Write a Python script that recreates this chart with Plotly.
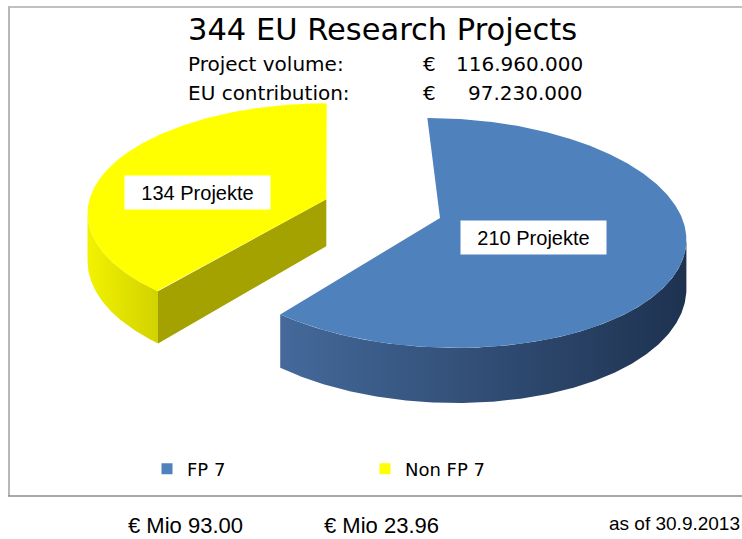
import numpy as np
import plotly.graph_objects as go

# ---------------- data ----------------
categories = ["FP 7", "Non FP 7"]
projects = [210, 134]
slice_labels = ["210 Projekte", "134 Projekte"]
funding_texts = ["€ Mio 93.00", "€ Mio 23.96"]
title_text = "344 EU Research Projects"
volume_label = "Project volume:"
volume_value = "116.960.000"
contrib_label = "EU contribution:"
contrib_value = "97.230.000"
date_text = "as of 30.9.2013"

# ---------------- styles ----------------
top_colors = ["#4F81BD", "#FFFF00"]
wall_scales = [[[0, "#44699A"], [1, "#1E3250"]],
               [[0, "#F2F200"], [1, "#D2D200"]]]
face_colors = ["#2E4F78", "#A3A200"]
explode = [0.0, 0.5]

W, H = 742, 539
CX, CY = 440, 218        # pie vertex in pixels
VX = 330                 # horizontal vanishing position
RX, RY = 242, 113        # projected radii
PERSP = 0.13             # perspective strength
DEPTH = 48               # thickness

def proj(X, Y, Z):
    w = 1.0 / (1.0 + PERSP * Y)
    return VX + (CX - VX + RX * X) * w, CY - (RY * Y + Z) * w

fig = go.Figure()
total = sum(projects)
cum = 0.0
order = [1, 0]   # draw the yellow (back) slice first
geo = []
for i, v in enumerate(projects):
    a0 = 90 - cum * 360 / total
    a1 = a0 - v * 360 / total
    cum += v
    geo.append((a0, a1))

label_pos = {}
for i in order:
    a0, a1 = geo[i]
    mid = np.radians((a0 + a1) / 2)
    ox, oy = explode[i] * np.cos(mid), explode[i] * np.sin(mid)
    t = np.radians(np.linspace(a0, a1, 600))
    xs_t, ys_t = proj(ox + np.cos(t), oy + np.sin(t), 0)
    xs_b, ys_b = proj(ox + np.cos(t), oy + np.sin(t), -DEPTH)
    # front-facing part of the curved wall
    dx, dy = np.gradient(xs_t), np.gradient(ys_t)
    vx_, vy_ = xs_b - xs_t, ys_b - ys_t
    mask = (dx * vy_ - dy * vx_) < 0
    if mask.any():
        idx = np.where(mask)[0]
        sl = slice(idx.min(), idx.max() + 1)
        xs = np.concatenate([xs_t[sl], xs_b[sl][::-1], xs_t[sl][:1]])
        ys = np.concatenate([ys_t[sl], ys_b[sl][::-1], ys_t[sl][:1]])
        fig.add_trace(go.Scatter(x=xs, y=ys, mode="lines", fill="toself",
                                 line=dict(width=0), fillcolor=top_colors[i],
                                 fillgradient=dict(type="horizontal", colorscale=wall_scales[i]),
                                 hoverinfo="skip", showlegend=False))
    # radial faces
    for edge, nrm in ((a1, a1 - 90), (a0, a0 + 90)):
        if np.sin(np.radians(nrm)) < -0.05:
            e = np.radians(edge)
            px = [ox, ox + np.cos(e), ox + np.cos(e), ox]
            py = [oy, oy + np.sin(e), oy + np.sin(e), oy]
            pz = [0, 0, -DEPTH, -DEPTH]
            fx, fy = proj(np.array(px), np.array(py), np.array(pz))
            fig.add_trace(go.Scatter(x=list(fx) + [fx[0]], y=list(fy) + [fy[0]],
                                     mode="lines", fill="toself", line=dict(width=0),
                                     fillcolor=face_colors[i], hoverinfo="skip",
                                     showlegend=False))
    # top face
    vx, vy = proj(ox, oy, 0)
    fig.add_trace(go.Scatter(x=np.concatenate([[vx], xs_t, [vx]]),
                             y=np.concatenate([[vy], ys_t, [vy]]),
                             mode="lines", fill="toself", line=dict(width=0),
                             fillcolor=top_colors[i], hoverinfo="skip",
                             showlegend=False))
    label_pos[i] = (vx, vy)

# slice labels
lab_off = {0: (93, 19), 1: (-129, -7)}
for i in range(len(projects)):
    vx, vy = label_pos[i]
    ddx, ddy = lab_off[i]
    fig.add_annotation(x=vx + ddx, y=vy + ddy, xref="x", yref="y",
                       text=slice_labels[i], showarrow=False,
                       bgcolor="white", width=143, height=31,
                       font=dict(family="Liberation Sans, Arial", size=20, color="black"))

# legend entries
for i, c in enumerate(categories):
    fig.add_trace(go.Scatter(x=[None], y=[None], mode="markers", name=c,
                             marker=dict(symbol="square", size=11, color=top_colors[i])))

# header texts
hfont = "DejaVu Sans, Verdana, sans-serif"
fig.add_annotation(x=382, y=29, xref="x", yref="y", text=title_text, showarrow=False,
                   font=dict(family=hfont, size=30.5, color="black"))
for yy, lab, val in ((64, volume_label, volume_value), (93, contrib_label, contrib_value)):
    fig.add_annotation(x=186, y=yy, xref="x", yref="y", text=lab, showarrow=False,
                       xanchor="left", font=dict(family=hfont, size=20, color="black"))
    fig.add_annotation(x=421, y=yy, xref="x", yref="y", text="€", showarrow=False,
                       xanchor="left", font=dict(family=hfont, size=20, color="black"))
    fig.add_annotation(x=585, y=yy, xref="x", yref="y", text=val, showarrow=False,
                       xanchor="right", font=dict(family=hfont, size=20, color="black"))

# bottom texts
bfont = "Liberation Sans, Arial, sans-serif"
for xx, txt in zip((185, 381), funding_texts):
    fig.add_annotation(x=xx, y=525, xref="x", yref="y", text=txt, showarrow=False,
                       font=dict(family=bfont, size=22, color="black"))
fig.add_annotation(x=1, y=1 - 523 / H, xref="paper", yref="paper", text=date_text,
                   showarrow=False, xanchor="right", yanchor="middle",
                   font=dict(family=bfont, size=19, color="black"))

# chart-area border
fig.add_shape(type="line", x0=9, x1=742, y0=7, y1=7, xref="x", yref="y",
              line=dict(color="#C0C0C0", width=2))
fig.add_shape(type="line", x0=9, x1=9, y0=6, y1=496, xref="x", yref="y",
              line=dict(color="#B8B8B8", width=2))
fig.add_shape(type="line", x0=8, x1=742, y0=496, y1=496, xref="x", yref="y",
              line=dict(color="#8C8C8C", width=1.5))

fig.update_layout(
    width=W, height=H,
    margin=dict(l=0, r=0, t=0, b=0),
    paper_bgcolor="white", plot_bgcolor="white",
    xaxis=dict(range=[0, W], visible=False, fixedrange=True),
    yaxis=dict(range=[H, 0], visible=False, fixedrange=True),
    showlegend=True,
    legend=dict(orientation="h", x=147 / W, y=1 - 469 / H, xanchor="left", yanchor="middle",
                entrywidth=173, font=dict(family=hfont, size=18, color="black"),
                bgcolor="rgba(0,0,0,0)", itemclick=False, itemdoubleclick=False),
)

fig.write_html("out.html", config={"displayModeBar": False, "staticPlot": True},
               post_script="document.body.style.margin='0';document.body.style.overflow='hidden';")
